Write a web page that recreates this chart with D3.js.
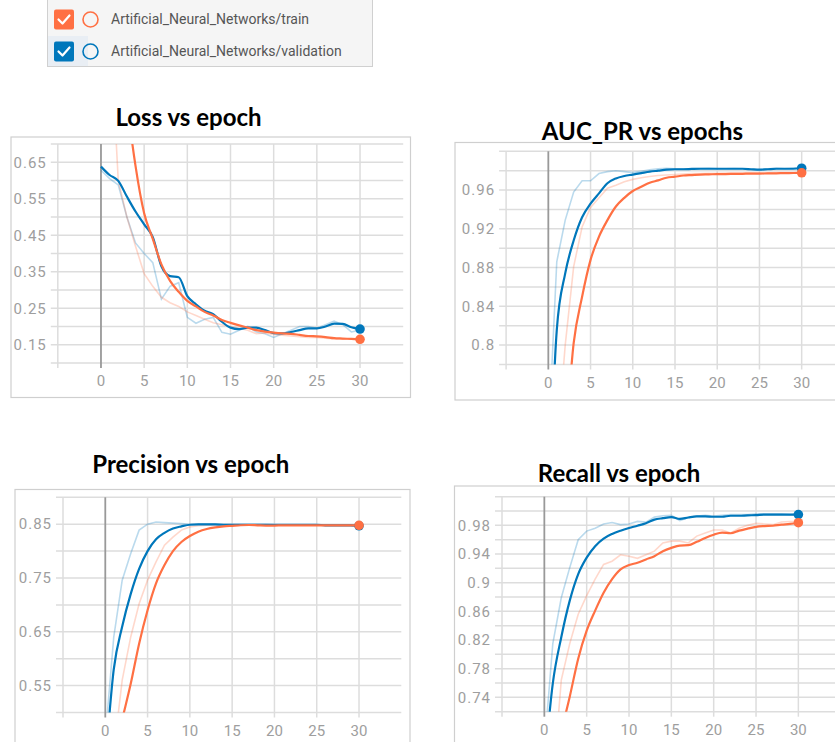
<!DOCTYPE html>
<html>
<head>
<meta charset="utf-8">
<script src="https://cdn.jsdelivr.net/npm/d3@7"></script>
<style>
  html, body { margin: 0; padding: 0; background: #fff; }
  svg { display: block; }
</style>
</head>
<body>
<div id="chart"></div>
<script>
// Epochs on the x axis
const epochs = d3.range(0, 31);

// Series names (legend)
const seriesNames = ["Artificial_Neural_Networks/train", "Artificial_Neural_Networks/validation"];

// Loss (smoothed + raw), train / validation
const lossTrain = [1.9, 1.4, 1.05, 0.82, 0.64, 0.51, 0.44, 0.37, 0.325, 0.295, 0.27, 0.255, 0.24, 0.23, 0.218, 0.21, 0.203, 0.197, 0.19, 0.186, 0.183, 0.181, 0.18, 0.177, 0.174, 0.173, 0.171, 0.168, 0.167, 0.166, 0.165];
const lossTrainRaw = [1.6, 1.05, 0.6, 0.5, 0.42, 0.345, 0.31, 0.28, 0.265, 0.255, 0.24, 0.23, 0.22, 0.21, 0.205, 0.2, 0.195, 0.19, 0.18, 0.182, 0.178, 0.176, 0.174, 0.172, 0.17, 0.17, 0.168, 0.166, 0.165, 0.165, 0.164];
const lossVal = [0.638, 0.615, 0.599, 0.556, 0.515, 0.48, 0.445, 0.365, 0.338, 0.335, 0.283, 0.261, 0.243, 0.234, 0.213, 0.197, 0.193, 0.197, 0.197, 0.19, 0.182, 0.181, 0.185, 0.19, 0.195, 0.195, 0.2, 0.208, 0.207, 0.198, 0.193];
const lossValRaw = [0.628, 0.605, 0.588, 0.5, 0.429, 0.4, 0.375, 0.275, 0.31, 0.32, 0.225, 0.209, 0.22, 0.225, 0.184, 0.179, 0.19, 0.2, 0.185, 0.18, 0.17, 0.18, 0.19, 0.2, 0.2, 0.195, 0.205, 0.215, 0.205, 0.185, 0.19];

// AUC_PR
const aucTrain = [0.55, 0.62, 0.70, 0.802, 0.85, 0.888, 0.912, 0.929, 0.943, 0.952, 0.959, 0.9634, 0.9676, 0.970, 0.9727, 0.9738, 0.975, 0.9755, 0.976, 0.9762, 0.9765, 0.9765, 0.9767, 0.9768, 0.977, 0.977, 0.9772, 0.9773, 0.9775, 0.9776, 0.9778];
const aucTrainRaw = [0.5, 0.69, 0.80, 0.881, 0.922, 0.942, 0.952, 0.962, 0.965, 0.9686, 0.971, 0.9727, 0.974, 0.975, 0.9755, 0.976, 0.9765, 0.977, 0.977, 0.9772, 0.9773, 0.9775, 0.9775, 0.9776, 0.9777, 0.9778, 0.9778, 0.978, 0.978, 0.978, 0.978];
const aucVal = [0.62, 0.8155, 0.874, 0.908, 0.932, 0.946, 0.9566, 0.967, 0.972, 0.9745, 0.976, 0.9775, 0.979, 0.98, 0.981, 0.9815, 0.9815, 0.9818, 0.982, 0.982, 0.982, 0.982, 0.982, 0.982, 0.9815, 0.981, 0.9815, 0.982, 0.982, 0.982, 0.9825];
const aucValRaw = [0.70, 0.886, 0.929, 0.958, 0.9696, 0.9696, 0.977, 0.979, 0.98, 0.979, 0.978, 0.9795, 0.981, 0.982, 0.9825, 0.982, 0.982, 0.982, 0.9823, 0.9825, 0.982, 0.982, 0.9823, 0.982, 0.981, 0.981, 0.982, 0.9825, 0.982, 0.9825, 0.983];

// Precision
const precTrain = [0.35, 0.42, 0.487, 0.553, 0.628, 0.69, 0.74, 0.774, 0.8, 0.817, 0.828, 0.836, 0.841, 0.844, 0.846, 0.847, 0.848, 0.8485, 0.848, 0.8475, 0.8475, 0.848, 0.848, 0.848, 0.848, 0.848, 0.848, 0.848, 0.848, 0.848, 0.848];
const precTrainRaw = [0.3, 0.427, 0.56, 0.64, 0.702, 0.746, 0.78, 0.811, 0.826, 0.839, 0.845, 0.847, 0.848, 0.848, 0.848, 0.849, 0.849, 0.848, 0.848, 0.848, 0.848, 0.848, 0.848, 0.848, 0.848, 0.848, 0.848, 0.848, 0.848, 0.848, 0.848];
const precVal = [0.4, 0.58, 0.66, 0.72, 0.767, 0.8, 0.822, 0.834, 0.842, 0.846, 0.849, 0.8495, 0.8495, 0.8495, 0.849, 0.849, 0.849, 0.849, 0.849, 0.849, 0.849, 0.849, 0.849, 0.849, 0.849, 0.849, 0.848, 0.848, 0.848, 0.848, 0.847];
const precValRaw = [0.453, 0.64, 0.746, 0.795, 0.839, 0.85, 0.854, 0.853, 0.852, 0.851, 0.85, 0.85, 0.85, 0.85, 0.85, 0.85, 0.85, 0.85, 0.85, 0.85, 0.849, 0.849, 0.849, 0.849, 0.849, 0.849, 0.849, 0.849, 0.849, 0.849, 0.849];

// Recall
const recTrain = [0.6, 0.65, 0.693, 0.741, 0.794, 0.833, 0.861, 0.886, 0.905, 0.9186, 0.9246, 0.9278, 0.9325, 0.937, 0.944, 0.9486, 0.9518, 0.9523, 0.957, 0.9625, 0.967, 0.97, 0.969, 0.9726, 0.9754, 0.978, 0.979, 0.9795, 0.981, 0.982, 0.9837];
const recTrainRaw = [0.55, 0.617, 0.764, 0.815, 0.856, 0.882, 0.905, 0.9255, 0.93, 0.939, 0.937, 0.934, 0.939, 0.944, 0.9555, 0.958, 0.958, 0.9555, 0.965, 0.9694, 0.9735, 0.9735, 0.9694, 0.976, 0.98, 0.983, 0.982, 0.981, 0.9846, 0.9855, 0.9855];
const recVal = [0.64, 0.7595, 0.824, 0.875, 0.912, 0.935, 0.951, 0.9615, 0.968, 0.9726, 0.9763, 0.9795, 0.983, 0.988, 0.99, 0.9915, 0.989, 0.991, 0.9925, 0.9925, 0.992, 0.992, 0.9934, 0.9934, 0.994, 0.9943, 0.995, 0.995, 0.995, 0.995, 0.995];
const recValRaw = [0.669, 0.815, 0.879, 0.921, 0.96, 0.972, 0.976, 0.982, 0.984, 0.981, 0.982, 0.9855, 0.9846, 0.9915, 0.9934, 0.994, 0.9865, 0.991, 0.993, 0.994, 0.993, 0.994, 0.995, 0.995, 0.995, 0.996, 0.996, 0.996, 0.996, 0.995, 0.996];

// Tick labels
const xTickLabels = [0, 5, 10, 15, 20, 25, 30];
const lossTickLabels = [0.15, 0.25, 0.35, 0.45, 0.55, 0.65];
const aucTickLabels = [0.8, 0.84, 0.88, 0.92, 0.96];
const precTickLabels = [0.55, 0.65, 0.75, 0.85];
const recTickLabels = [0.74, 0.78, 0.82, 0.86, 0.9, 0.94, 0.98];

const width = 835;
const height = 742;
const orange = "#ff7043";
const blue = "#0077bb";
const gridColor = "#dddddd";
const labelColor = "#9e9e9e";

const svg = d3.select("#chart")
  .append("svg")
  .attr("width", width)
  .attr("height", height)
  .attr("viewBox", [0, 0, width, height]);

// ---- legend ----
const legend = svg.append("g");
legend.append("rect")
  .attr("x", 47.5).attr("y", -2).attr("width", 325).attr("height", 68.5)
  .attr("fill", "#f5f5f5").attr("stroke", "#d0d0d0");
legend.append("rect")
  .attr("x", 48).attr("y", 36).attr("width", 40).attr("height", 30)
  .attr("fill", "#e9eef4");

[orange, blue].forEach((c, i) => {
  const cy = i === 0 ? 19.5 : 51.5;
  legend.append("rect")
    .attr("x", 54).attr("y", cy - 10).attr("width", 20).attr("height", 20)
    .attr("rx", 2).attr("fill", c);
  legend.append("path")
    .attr("d", `M${58.5},${cy} l4,4 l7,-8`)
    .attr("fill", "none").attr("stroke", "#fff").attr("stroke-width", 2.2)
    .attr("stroke-linecap", "round").attr("stroke-linejoin", "round");
  legend.append("circle")
    .attr("cx", 90.5).attr("cy", cy).attr("r", 7.5)
    .attr("fill", "none").attr("stroke", c).attr("stroke-width", 1.6);
  legend.append("text")
    .attr("x", 111).attr("y", cy).attr("dy", "0.35em")
    .attr("fill", "#555")
    .style("font", "14px Roboto, sans-serif")
    .text(seriesNames[i]);
});

// ---- panels ----
const panels = [
  {
    title: "Loss vs epoch", titleX: 188.5, titleY: 126,
    frame: [11, 137, 410.5, 397.5],
    xRange: [57.8, 403.2], yRange: [363, 144], yDomain: [0.1, 0.7], yStep: 0.05,
    yLabels: lossTickLabels, fmt: d3.format(".2f"),
    train: lossTrain, trainRaw: lossTrainRaw, val: lossVal, valRaw: lossValRaw
  },
  {
    title: "AUC_PR vs epochs", titleX: 642.5, titleY: 140,
    frame: [455, 142.5, 840, 400],
    xRange: [506.1, 843.9], yRange: [364.5, 151.3], yDomain: [0.78, 1.0], yStep: 0.02,
    yLabels: aucTickLabels, fmt: d => d3.format(".2f")(d).replace(/0$/, ""),
    train: aucTrain, trainRaw: aucTrainRaw, val: aucVal, valRaw: aucValRaw
  },
  {
    title: "Precision vs epoch", titleX: 190.8, titleY: 473,
    frame: [15, 489.5, 410, 750],
    xRange: [63, 401.3], yRange: [712.5, 497.3], yDomain: [0.5, 0.9], yStep: 0.05,
    yLabels: precTickLabels, fmt: d3.format(".2f"),
    train: precTrain, trainRaw: precTrainRaw, val: precVal, valRaw: precValRaw
  },
  {
    title: "Recall vs epoch", titleX: 619, titleY: 482,
    frame: [454.5, 486, 840, 750],
    xRange: [502, 840.7], yRange: [711.7, 496.7], yDomain: [0.72, 1.02], yStep: 0.02,
    yLabels: recTickLabels, fmt: d => d3.format(".2f")(d).replace(/0$/, ""),
    train: recTrain, trainRaw: recTrainRaw, val: recVal, valRaw: recValRaw
  }
];

panels.forEach((p, pi) => {
  const g = svg.append("g");
  const [fx0, fy0, fx1, fy1] = p.frame;

  g.append("rect")
    .attr("x", fx0).attr("y", fy0)
    .attr("width", fx1 - fx0).attr("height", fy1 - fy0)
    .attr("fill", "#fff").attr("stroke", "#cfcfcf").attr("stroke-width", 1.2);

  g.append("text")
    .attr("x", p.titleX).attr("y", p.titleY)
    .attr("text-anchor", "middle")
    .style("font", "bold 24px Lato, 'Open Sans', sans-serif")
    .attr("fill", "#000")
    .text(p.title);

  const x = d3.scaleLinear().domain([-5, 35]).range(p.xRange);
  const y = d3.scaleLinear().domain(p.yDomain).range(p.yRange);

  // horizontal grid lines
  const yGrid = d3.range(p.yDomain[0], p.yDomain[1] + p.yStep / 2, p.yStep);
  g.append("g")
    .selectAll("line")
    .data(yGrid)
    .join("line")
    .attr("x1", x(-5) - 7).attr("x2", x(35))
    .attr("y1", d => y(d)).attr("y2", d => y(d))
    .attr("stroke", gridColor).attr("stroke-width", 1.5);

  // vertical grid lines (epoch = 0 darker)
  g.append("g")
    .selectAll("line")
    .data(d3.range(-5, 31, 5))
    .join("line")
    .attr("x1", d => x(d)).attr("x2", d => x(d))
    .attr("y1", y(p.yDomain[1])).attr("y2", y(p.yDomain[0]) + 5)
    .attr("stroke", d => (d === 0 ? "#999" : gridColor))
    .attr("stroke-width", d => (d === 0 ? 1.8 : 1.5));

  // y labels
  g.append("g")
    .selectAll("text")
    .data(p.yLabels)
    .join("text")
    .attr("x", x(-5) - 11).attr("y", d => y(d)).attr("dy", "0.35em")
    .attr("text-anchor", "end")
    .attr("fill", labelColor)
    .style("font", "15px Roboto, sans-serif")
    .style("letter-spacing", "1px")
    .text(p.fmt);

  // x labels
  g.append("g")
    .selectAll("text")
    .data(xTickLabels)
    .join("text")
    .attr("x", d => x(d)).attr("y", y(p.yDomain[0]) + 18).attr("dy", "0.35em")
    .attr("text-anchor", "middle")
    .attr("fill", labelColor)
    .style("font", "15px Roboto, sans-serif")
    .text(d => d);

  // clip for data lines
  const clipId = `clip-${pi}`;
  svg.append("clipPath").attr("id", clipId)
    .append("rect")
    .attr("x", x(-5)).attr("y", y(p.yDomain[1]))
    .attr("width", Math.min(x(35), fx1) - x(-5))
    .attr("height", y(p.yDomain[0]) - y(p.yDomain[1]));

  const rawLine = d3.line()
    .x((d, i) => x(epochs[i]))
    .y(d => y(d));
  const smoothLine = d3.line()
    .curve(d3.curveMonotoneX)
    .x((d, i) => x(epochs[i]))
    .y(d => y(d));

  const lines = g.append("g").attr("clip-path", `url(#${clipId})`).attr("fill", "none");

  lines.append("path").attr("d", rawLine(p.valRaw))
    .attr("stroke", blue).attr("stroke-opacity", 0.27).attr("stroke-width", 1.6);
  lines.append("path").attr("d", rawLine(p.trainRaw))
    .attr("stroke", orange).attr("stroke-opacity", 0.27).attr("stroke-width", 1.6);
  lines.append("path").attr("d", smoothLine(p.val))
    .attr("stroke", blue).attr("stroke-width", 2.2);
  lines.append("path").attr("d", smoothLine(p.train))
    .attr("stroke", orange).attr("stroke-width", 2.2);

  const last = epochs.length - 1;
  g.append("circle")
    .attr("cx", x(epochs[last])).attr("cy", y(p.val[last])).attr("r", 4.8)
    .attr("fill", blue);
  g.append("circle")
    .attr("cx", x(epochs[last])).attr("cy", y(p.train[last])).attr("r", 4.8)
    .attr("fill", orange);
});
</script>
</body>
</html>
